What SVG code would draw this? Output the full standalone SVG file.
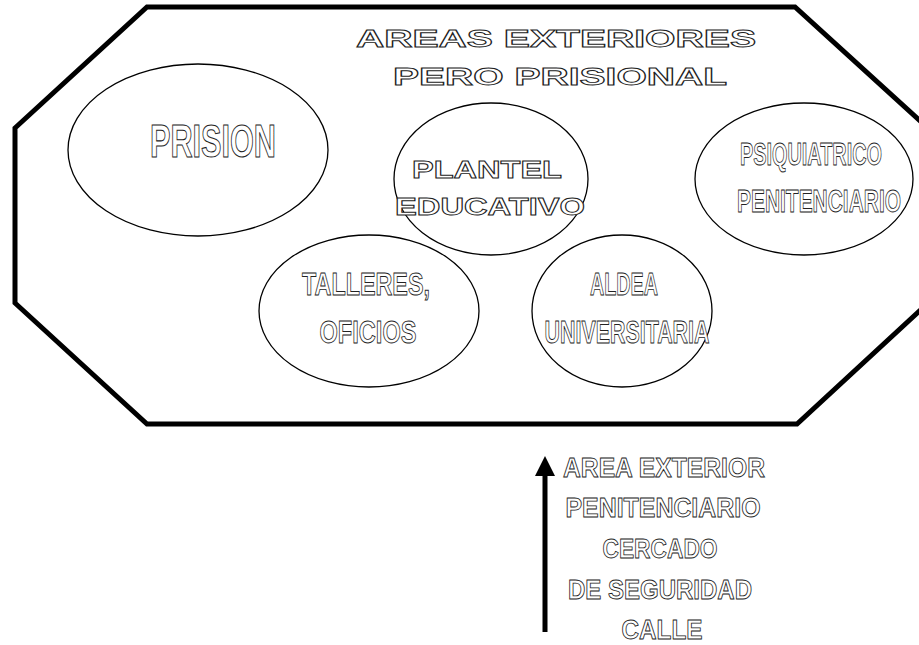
<svg xmlns="http://www.w3.org/2000/svg" width="919" height="645" viewBox="0 0 919 645">
  <defs>
    <marker id="head" markerUnits="userSpaceOnUse" markerWidth="22" markerHeight="22" refX="10" refY="11" orient="auto">
      <path d="M0,1 L20,11 L0,21 Z" fill="#000"/>
    </marker>
  </defs>
  <style>
    .frame { fill: #fff; stroke: #000; stroke-width: 5; stroke-linejoin: miter; }
    .node { fill: #fff; stroke: #000; stroke-width: 1.3; }
    .t { font-family: "Liberation Sans", Arial, sans-serif; font-weight: bold; fill: #fff; stroke: #222; stroke-width: 0.9; text-anchor: middle; }
    .wide { font-size: 24px; }
    .cond { font-size: 31px; }
    .big { font-size: 47px; stroke-width: 1.1; }
    .side { font-size: 28px; }
    .link { stroke: #000; stroke-width: 5; fill: none; }
  </style>

  <rect width="919" height="645" fill="#fff"/>

  <!-- outer enclosure -->
  <g id="enclosure">
    <polygon class="frame" points="147,7 795,7 928,128 928,303 797,424 147,424 15,303 15,128"/>
    <text class="t wide" x="556" y="47" textLength="400" lengthAdjust="spacingAndGlyphs">AREAS EXTERIORES</text>
    <text class="t wide" x="560" y="85" textLength="334" lengthAdjust="spacingAndGlyphs">PERO PRISIONAL</text>
  </g>

  <g id="prision">
    <ellipse class="node" cx="198" cy="150" rx="130" ry="86"/>
    <text class="t big" x="213" y="157" textLength="126" lengthAdjust="spacingAndGlyphs">PRISION</text>
  </g>

  <g id="plantel">
    <ellipse class="node" cx="491" cy="179" rx="97" ry="76"/>
    <text class="t wide" x="487" y="178" textLength="150" lengthAdjust="spacingAndGlyphs">PLANTEL</text>
    <text class="t wide" x="490" y="215" textLength="190" lengthAdjust="spacingAndGlyphs">EDUCATIVO</text>
  </g>

  <g id="psiquiatrico">
    <ellipse class="node" cx="804" cy="179" rx="109" ry="76"/>
    <text class="t cond" x="811" y="165" textLength="142" lengthAdjust="spacingAndGlyphs">PSIQUIATRICO</text>
    <text class="t cond" x="819" y="212" textLength="164" lengthAdjust="spacingAndGlyphs">PENITENCIARIO</text>
  </g>

  <g id="talleres">
    <ellipse class="node" cx="369" cy="311" rx="110" ry="76"/>
    <text class="t cond" x="366" y="295" textLength="128" lengthAdjust="spacingAndGlyphs">TALLERES,</text>
    <text class="t cond" x="368" y="343" textLength="97" lengthAdjust="spacingAndGlyphs">OFICIOS</text>
  </g>

  <g id="aldea">
    <ellipse class="node" cx="622" cy="311" rx="90" ry="76"/>
    <text class="t cond" x="624" y="295" textLength="68" lengthAdjust="spacingAndGlyphs">ALDEA</text>
    <text class="t cond" x="627" y="343" textLength="165" lengthAdjust="spacingAndGlyphs">UNIVERSITARIA</text>
  </g>

  <!-- entry path from the street -->
  <g id="connectors">
    <line class="link" x1="545" y1="632" x2="545" y2="466" marker-end="url(#head)"/>
  </g>

  <g id="entry-labels">
    <text class="t side" x="664" y="477" textLength="202" lengthAdjust="spacingAndGlyphs">AREA EXTERIOR</text>
    <text class="t side" x="663" y="517" textLength="195" lengthAdjust="spacingAndGlyphs">PENITENCIARIO</text>
    <text class="t side" x="660" y="558" textLength="115" lengthAdjust="spacingAndGlyphs">CERCADO</text>
    <text class="t side" x="660" y="599" textLength="184" lengthAdjust="spacingAndGlyphs">DE SEGURIDAD</text>
    <text class="t side" x="662" y="639" textLength="81" lengthAdjust="spacingAndGlyphs">CALLE</text>
  </g>
</svg>
